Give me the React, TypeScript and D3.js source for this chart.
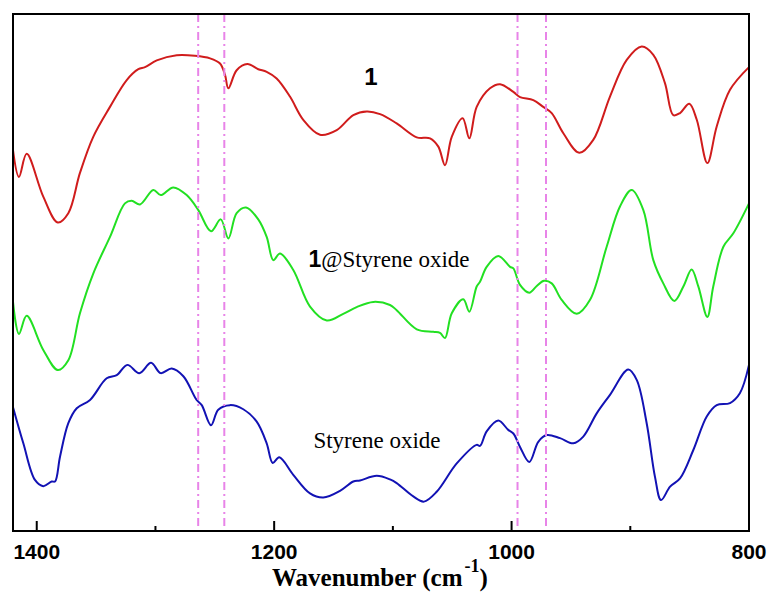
import React from "react";
import * as d3 from "d3";

// IR spectra, transmittance in arbitrary units (offset traces)
const compound1: [number, number][] = [
  [1420, 73.6], [1415, 68.4], [1408.5, 72.9], [1394.5, 64.6], [1382.3, 59.6], [1373.4, 61.4],
  [1363.6, 69.2], [1352.4, 76.2], [1338.3, 82.0], [1324.2, 87.2], [1314.4, 89.3], [1308.8, 89.7],
  [1298.9, 91.0], [1282.1, 92.0], [1266.7, 91.9], [1254, 91.4], [1245.6, 90.4], [1241.4, 88.2],
  [1238.6, 85.6], [1231.6, 89.1], [1222.6, 90.3], [1213.4, 89.3], [1206.3, 88.8], [1197.9, 87.5],
  [1186.7, 84.0], [1175.5, 79.5], [1161.4, 76.6], [1147.3, 77.5], [1133.3, 80.4], [1122, 81.1],
  [1110.8, 80.6], [1096.8, 78.8], [1079.9, 76.1], [1068.7, 75.9], [1061.7, 74.3], [1056.1, 70.7],
  [1050.4, 76.2], [1041.2, 79.8], [1035.6, 75.9], [1029.4, 82.0], [1018.2, 85.6], [1009.7, 86.4],
  [998.5, 84.9], [992.9, 83.9], [981.7, 83.3], [973.3, 82.0], [966.2, 80.8], [956.4, 76.9],
  [943, 73.1], [931.2, 75.6], [917.1, 84.0], [903, 91.1], [890.4, 93.7], [880.6, 92.1],
  [870.8, 86.6], [863.8, 80.4], [858.1, 80.8], [850.3, 82.6], [844, 79.5], [835.1, 71.1],
  [827.2, 78.2], [816, 85.3], [800, 89.7],
];

const compound1Styrene: [number, number][] = [
  [1420, 44.2], [1415, 38.0], [1408.5, 41.5], [1394.5, 34.9], [1382.3, 31.0], [1373.4, 32.9],
  [1363.6, 42.0], [1352.4, 49.7], [1338.3, 56.8], [1325.7, 63.3], [1320, 63.8], [1313, 63.1],
  [1301.8, 65.9], [1295.6, 64.9], [1285, 66.4], [1273.7, 64.9], [1263.9, 62.0], [1253.2, 57.9],
  [1245, 60.2], [1238.6, 56.5], [1231.6, 61.4], [1223.7, 62.5], [1213.4, 60.2], [1206.3, 56.8],
  [1200.7, 52.3], [1195.1, 53.6], [1183.9, 50.4], [1169.8, 43.3], [1155.7, 40.6], [1141.8, 41.9],
  [1130.5, 43.2], [1116.5, 44.2], [1102.4, 43.6], [1096.8, 42.6], [1079.9, 38.9], [1066, 38.4],
  [1060.3, 38.2], [1056.1, 37.2], [1050.4, 42.0], [1040.7, 44.7], [1035.6, 42.3], [1029.4, 47.2],
  [1026.6, 48.1], [1021, 51.0], [1011.2, 53.1], [1001.3, 51.0], [998.5, 50.7], [992.9, 47.5],
  [985.1, 46.0], [978.8, 47.3], [972.7, 48.3], [966.2, 47.8], [957.8, 44.6], [945.1, 41.9],
  [933.9, 44.6], [919.9, 54.9], [908.7, 62.7], [898.8, 65.9], [889, 62.0], [880.6, 52.3],
  [872.2, 47.8], [862.9, 44.4], [855.3, 47.2], [848.3, 50.5], [842.7, 47.2], [835.1, 41.3],
  [830.1, 47.2], [821.6, 54.9], [813.2, 57.5], [800, 63.3],
];

const styreneOxide: [number, number][] = [
  [1420, 23.8], [1411.3, 16.8], [1401.5, 9.7], [1394.5, 8.5], [1387.4, 9.4], [1384.6, 9.4],
  [1380.4, 14.2], [1373.4, 20.7], [1366.3, 23.6], [1355.1, 25.2], [1341.1, 29.4], [1332.6, 30.0],
  [1323.7, 32.0], [1313.6, 30.4], [1303.7, 32.4], [1295.6, 30.4], [1286.3, 31.3], [1276.5, 29.8],
  [1265.3, 25.2], [1261, 24.2], [1253.2, 20.3], [1247.1, 23.3], [1237.2, 24.2], [1226, 23.4],
  [1214.7, 21.0], [1206.3, 16.8], [1201.2, 13.0], [1195.7, 14.1], [1183.9, 10.7], [1169.8, 7.1],
  [1158.6, 6.3], [1144.5, 7.6], [1133.3, 9.4], [1127.7, 9.6], [1113.6, 10.5], [1102.4, 9.8],
  [1096.8, 9.1], [1082.8, 6.5], [1073.8, 5.5], [1063.1, 7.4], [1046.2, 12.9], [1029.4, 16.5],
  [1026.6, 16.3], [1021, 19.1], [1011.2, 21.2], [1002.8, 19.4], [998.5, 18.7], [992.9, 16.1],
  [985.1, 13.2], [977.5, 17.1], [970.4, 18.4], [959.2, 17.8], [948, 16.8], [939.6, 18.1],
  [928.3, 22.6], [917.1, 26.2], [901.7, 31.1], [894.6, 29.1], [886.2, 20.7], [879.2, 10.3],
  [874.1, 5.8], [866.5, 8.4], [858.1, 10.0], [846.9, 15.5], [835.6, 22.0], [827.2, 24.2],
  [816, 24.6], [807.7, 26.5], [800, 32.0],
];

const markerLines = [1264, 1242, 995, 971];
const majorTicks = [1400, 1200, 1000, 800];
const minorTicks = [1300, 1100, 900];

const W = 773;
const H = 597;
const left = 13, right = 749, top = 14, bottom = 531;

export default function App() {
  const x = d3.scaleLinear().domain([1420, 800]).range([left, right]);
  const y = d3.scaleLinear().domain([0, 100]).range([530, top]);
  const line = d3
    .line<[number, number]>()
    .x((d) => x(d[0]))
    .y((d) => y(d[1]))
    .curve(d3.curveCatmullRom.alpha(0.5));

  const series = [
    { data: compound1, color: "#d01c1c" },
    { data: compound1Styrene, color: "#22e022" },
    { data: styreneOxide, color: "#1212b4" },
  ];

  return (
    <svg
      width={W}
      height={H}
      style={{ position: "absolute", left: 0, top: 0, background: "#fff" }}
    >
      {series.map((s, i) => (
        <path key={i} d={line(s.data) || ""} fill="none" stroke={s.color} strokeWidth={2} />
      ))}

      {markerLines.map((wn) => (
        <line
          key={wn}
          x1={x(wn)}
          x2={x(wn)}
          y1={top}
          y2={bottom}
          stroke="#e884e8"
          strokeWidth={2}
          strokeDasharray="8,4,2,4"
        />
      ))}

      <rect
        x={left}
        y={top}
        width={right - left}
        height={bottom - top}
        fill="none"
        stroke="#000"
        strokeWidth={2}
      />

      {majorTicks.map((t) => (
        <g key={t}>
          <line x1={x(t)} x2={x(t)} y1={bottom} y2={bottom - 10} stroke="#000" strokeWidth={2} />
          <text
            x={x(t)}
            y={559}
            textAnchor="middle"
            fontFamily="Liberation Sans, Arial, sans-serif"
            fontWeight="bold"
            fontSize={21}
          >
            {t}
          </text>
        </g>
      ))}
      {minorTicks.map((t) => (
        <line key={t} x1={x(t)} x2={x(t)} y1={bottom} y2={bottom - 5} stroke="#000" strokeWidth={2} />
      ))}

      <text
        x={272}
        y={586}
        fontFamily="Liberation Serif, Times New Roman, serif"
        fontWeight="bold"
        fontSize={25}
      >
        Wavenumber (cm
        <tspan fontSize={18} dy={-14} dx={2}>-1</tspan>
        <tspan dy={14}>)</tspan>
      </text>

      <text x={371} y={85} textAnchor="middle" fontFamily="Liberation Sans, Arial, sans-serif" fontWeight="bold" fontSize={24}>
        1
      </text>
      <text x={389} y={267} textAnchor="middle" fontFamily="Liberation Serif, Times New Roman, serif" fontSize={23}>
        <tspan fontFamily="Liberation Sans, Arial, sans-serif" fontWeight="bold">1</tspan>
        @Styrene oxide
      </text>
      <text x={377} y={448} textAnchor="middle" fontFamily="Liberation Serif, Times New Roman, serif" fontSize={23}>
        Styrene oxide
      </text>
    </svg>
  );
}
